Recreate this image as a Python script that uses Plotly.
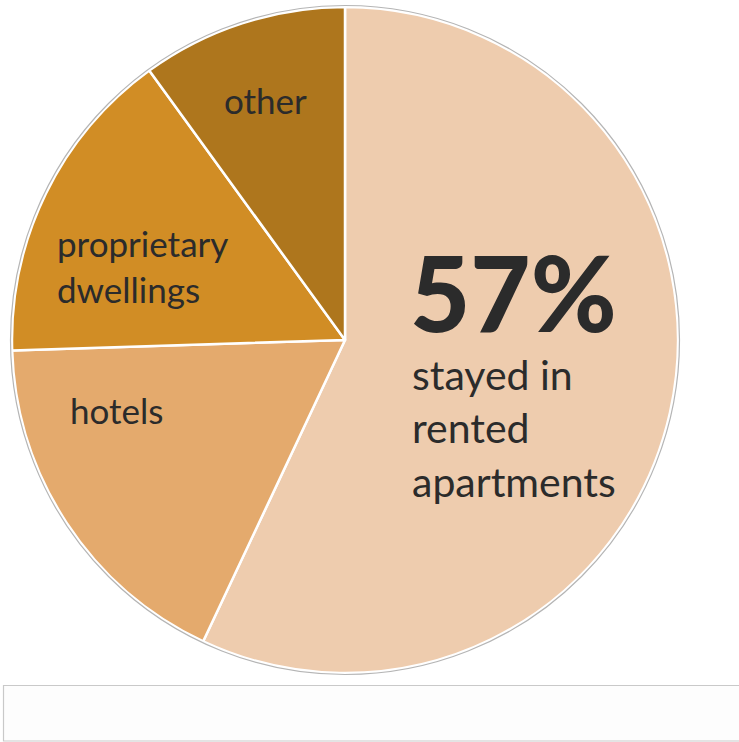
import plotly.graph_objects as go

# Share of visitors by type of accommodation
categories = ["rented apartments", "hotels", "proprietary dwellings", "other"]
shares = [57, 17.5, 15.5, 10]
colors = ["#EECCAE", "#E4AA6D", "#D18D25", "#AE761D"]

W, H = 739, 742
CX, CY, R = 345, 340, 333  # pie centre and radius in page pixels


def px_x(x):
    return x / W


def px_y(y):
    return 1 - y / H


FONT = "Lato, 'Open Sans', sans-serif"
INK = "#2B2B2B"

fig = go.Figure(
    go.Pie(
        labels=categories,
        values=shares,
        sort=False,
        direction="clockwise",
        rotation=0,
        textinfo="none",
        hoverinfo="label+percent",
        marker=dict(colors=colors, line=dict(color="white", width=2.5)),
        domain=dict(x=[px_x(CX - R), px_x(CX + R)], y=[px_y(CY + R), px_y(CY - R)]),
        showlegend=False,
    )
)

shapes = [
    # thin grey rim around the pie
    dict(type="circle", xref="paper", yref="paper",
         x0=px_x(CX - R - 1.5), x1=px_x(CX + R + 1.5),
         y0=px_y(CY + R + 1.5), y1=px_y(CY - R - 1.5),
         line=dict(color="#B5B5B5", width=1.2), layer="above"),
    # footer panel
    dict(type="rect", xref="paper", yref="paper",
         x0=px_x(3.5), x1=px_x(W + 5), y0=px_y(741), y1=px_y(685.5),
         fillcolor="#FDFDFD", line=dict(color="#C9C9C9", width=1.2), layer="below"),
]

annotations = [
    dict(text="57%", x=px_x(408), y=px_y(291), xanchor="left", yanchor="middle",
         font=dict(family=FONT, size=104, color=INK, weight=900)),
    dict(text="stayed in<br>rented<br>apartments", x=px_x(410), y=px_y(428),
         xanchor="left", yanchor="middle", align="left",
         font=dict(family=FONT, size=41, color=INK)),
    dict(text="other", x=px_x(265), y=px_y(100), xanchor="center", yanchor="middle",
         font=dict(family=FONT, size=35, color=INK)),
    dict(text="proprietary<br>dwellings", x=px_x(55), y=px_y(266),
         xanchor="left", yanchor="middle", align="left",
         font=dict(family=FONT, size=35, color=INK)),
    dict(text="hotels", x=px_x(68), y=px_y(410), xanchor="left", yanchor="middle",
         font=dict(family=FONT, size=35, color=INK)),
]
for a in annotations:
    a.update(xref="paper", yref="paper", showarrow=False)

fig.update_layout(
    width=W, height=H,
    margin=dict(l=0, r=0, t=0, b=0),
    paper_bgcolor="white", plot_bgcolor="white",
    shapes=shapes, annotations=annotations,
)

fig.write_html("out.html")
